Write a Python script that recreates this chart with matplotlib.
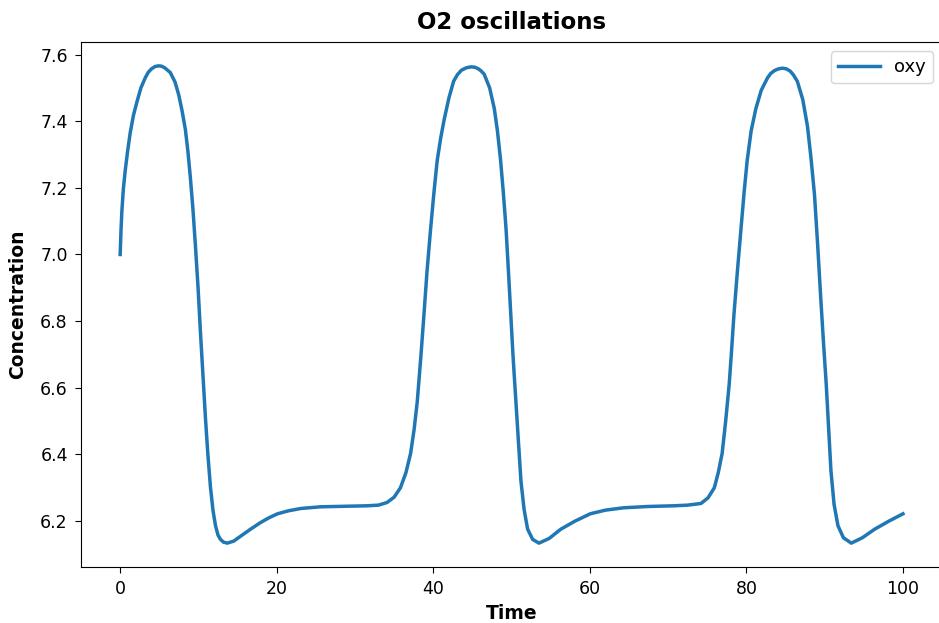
import matplotlib
matplotlib.use("Agg")
import matplotlib.pyplot as plt

# values
time = [0, 0.1, 0.21, 0.4, 0.64, 0.95, 1.28, 1.7, 2.14, 2.65, 3.2, 3.6, 4.0, 4.45, 4.9,
        5.3, 5.7, 6.4, 7.0, 7.48, 7.9, 8.33, 8.65,
        8.97, 9.3, 9.62, 9.95, 10.26, 10.58, 10.9, 11.22, 11.54, 11.86, 12.18, 12.5,
        12.82, 13.2, 13.68, 14.5, 15.4, 16.6, 17.95, 19.0, 20.1, 21.5, 23.1, 25.6,
        27.3, 29.5, 31.5, 33.0, 34.1, 35.0, 35.8, 36.5, 37.1, 37.55, 37.95, 38.4,
        38.8, 39.2, 39.65, 40.1, 40.5, 40.95, 41.4, 42.0, 42.6, 43.1, 43.6, 44.2, 44.8,
        45.3, 45.7, 46.1, 46.5, 47.2, 47.8, 48.2, 48.6, 48.95, 49.3, 49.6, 49.9, 50.2,
        50.55, 50.9, 51.2, 51.6, 52.05, 52.7, 53.5, 54.8, 56.3, 58.1, 60.05, 62.0,
        64.3, 67.5, 70.7, 72.5, 74.2, 75.1, 75.9, 76.4, 76.9, 77.35, 77.8, 78.1, 78.4,
        78.85, 79.3, 79.7, 80.1, 80.6, 81.2, 81.9, 82.7, 83.1, 83.6, 84.1, 84.6, 85.1,
        85.6, 86.0, 86.5, 87.2, 87.8, 88.25, 88.7, 89.1, 89.5, 89.85, 90.2, 90.5,
        90.8, 91.2, 91.7, 92.4, 93.4, 94.8, 96.4, 98.2, 100.0]
oxy = [7.00, 7.07, 7.127, 7.195, 7.251, 7.310, 7.365, 7.418, 7.458, 7.500, 7.530,
       7.547, 7.557, 7.564, 7.566, 7.565, 7.560, 7.546, 7.518,
       7.479, 7.432, 7.375, 7.310, 7.230, 7.135, 7.024, 6.900, 6.765, 6.635, 6.507,
       6.395, 6.300, 6.232, 6.186, 6.158, 6.145, 6.137, 6.134, 6.140, 6.155, 6.175,
       6.196, 6.210, 6.222, 6.231, 6.238, 6.243, 6.244, 6.245, 6.246, 6.248, 6.256,
       6.272, 6.300, 6.345, 6.403, 6.475, 6.558, 6.690, 6.817, 6.950, 7.075, 7.190,
       7.282, 7.350, 7.406, 7.470, 7.520, 7.540, 7.553, 7.560, 7.563, 7.562, 7.558,
       7.551, 7.541, 7.500, 7.437, 7.370, 7.282, 7.185, 7.075, 6.950, 6.817, 6.690,
       6.558, 6.430, 6.320, 6.235, 6.176, 6.145, 6.134, 6.148, 6.176, 6.200, 6.222,
       6.233, 6.240, 6.244, 6.246, 6.248, 6.253, 6.270, 6.300, 6.345, 6.403, 6.500,
       6.610, 6.710, 6.817, 6.950, 7.075, 7.185, 7.282, 7.370, 7.437, 7.493, 7.530,
       7.543, 7.552, 7.557, 7.559, 7.557, 7.550, 7.539, 7.520, 7.465, 7.385, 7.290,
       7.179, 7.030, 6.868, 6.735, 6.610, 6.480, 6.351, 6.250, 6.186, 6.150, 6.134,
       6.150, 6.176, 6.200, 6.222]

fig = plt.figure(figsize=(9.39, 6.23), dpi=100)
ax = fig.add_axes([0.0863, 0.0899, 0.917, 0.8427])
ax.plot(time, oxy, color="#1f77b4", lw=2.5, label="oxy")
ax.set_title("O2 oscillations", fontsize=16.5, fontweight="bold", pad=9)
ax.set_xlabel("Time", fontsize=13.5, fontweight="bold", labelpad=4.5)
ax.set_ylabel("Concentration", fontsize=13.5, fontweight="bold", labelpad=9)
ax.tick_params(labelsize=12.5, length=4.5, pad=5)
ax.legend(fontsize=13, loc="upper right", handlelength=2.3)

fig.savefig("out.png", dpi=100)
